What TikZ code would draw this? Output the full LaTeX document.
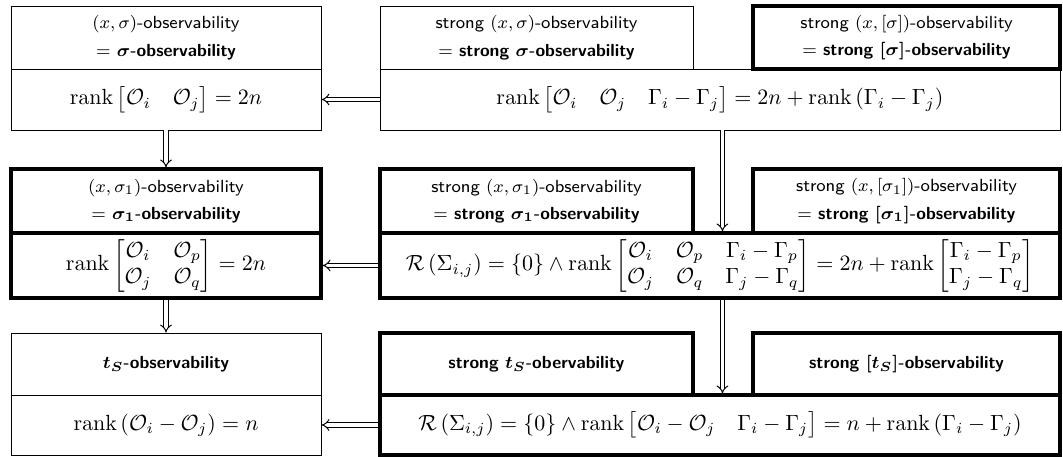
\documentclass[tikz,border=0pt]{standalone}
\usepackage{amsmath}
\usepackage{amssymb}
\usepackage{tikz}
\usetikzlibrary{arrows.meta, calc}

\begin{document}
\begin{tikzpicture}[
  ttl/.style={draw, line width=0.45pt, fill=white, align=center, inner sep=0pt,
              font=\footnotesize\sffamily},
  cnd/.style={draw, line width=0.45pt, fill=white, align=center, inner sep=0pt},
  strongbox/.style={line width=1.4pt},
  leftcol/.style={minimum width=4.96cm},
  midcol/.style={minimum width=5.008cm},
  rightcol/.style={minimum width=4.912cm},
  widecol/.style={minimum width=10.88cm},
  impl/.style={double, double distance=1.4pt, line width=0.45pt, -{Implies}}
]
  \useasboundingbox (0,0) rectangle (17.008,-7.312);

  % first row: sigma
  \node[ttl, leftcol, minimum height=1.008cm] (t1L) at (2.656,-0.6)
    {$(x,\sigma)$-observability\\[3pt]$=$ \textbf{\boldmath$\sigma$-observability}};
  \node[cnd, leftcol, minimum height=0.976cm] (c1L) at (2.656,-1.592)
    {$\operatorname{rank}\begin{bmatrix}\mathcal{O}_i & \mathcal{O}_j\end{bmatrix} = 2n$};
  \node[ttl, midcol, minimum height=1.008cm] (t1M) at (8.584,-0.6)
    {strong $(x,\sigma)$-observability\\[3pt]$=$ \textbf{\boldmath strong $\sigma$-observability}};
  \node[cnd, widecol, minimum height=0.976cm] (c1R) at (11.52,-1.592)
    {$\operatorname{rank}\begin{bmatrix}\mathcal{O}_i & \mathcal{O}_j & \Gamma_i-\Gamma_j\end{bmatrix}
      = 2n + \operatorname{rank}\left(\Gamma_i-\Gamma_j\right)$};
  \node[ttl, strongbox, rightcol, minimum height=1.008cm] (t1R) at (14.504,-0.6)
    {strong $(x,[\sigma])$-observability\\[3pt]$=$ \textbf{\boldmath strong $[\sigma]$-observability}};

  % second row: sigma_1
  \node[ttl, strongbox, leftcol, minimum height=1.024cm] (t2L) at (2.656,-3.216)
    {$(x,\sigma_1)$-observability\\[3pt]$=$ \textbf{\boldmath$\sigma_1$-observability}};
  \node[cnd, strongbox, leftcol, minimum height=1.04cm] (c2L) at (2.656,-4.248)
    {$\operatorname{rank}\begin{bmatrix}\mathcal{O}_i & \mathcal{O}_p\\ \mathcal{O}_j & \mathcal{O}_q\end{bmatrix} = 2n$};
  \node[ttl, strongbox, midcol, minimum height=1.024cm] (t2M) at (8.584,-3.216)
    {strong $(x,\sigma_1)$-observability\\[3pt]$=$ \textbf{\boldmath strong $\sigma_1$-observability}};
  \node[ttl, strongbox, rightcol, minimum height=1.024cm] (t2R) at (14.504,-3.216)
    {strong $(x,[\sigma_1])$-observability\\[3pt]$=$ \textbf{\boldmath strong $[\sigma_1]$-observability}};
  \node[cnd, strongbox, widecol, minimum height=1.04cm] (c2R) at (11.52,-4.248)
    {$\mathcal{R}\left(\Sigma_{i,j}\right) = \{0\} \wedge \operatorname{rank}
      \begin{bmatrix}\mathcal{O}_i & \mathcal{O}_p & \Gamma_i-\Gamma_p\\ \mathcal{O}_j & \mathcal{O}_q & \Gamma_j-\Gamma_q\end{bmatrix}
      = 2n + \operatorname{rank}\begin{bmatrix}\Gamma_i-\Gamma_p\\ \Gamma_j-\Gamma_q\end{bmatrix}$};

  % third row: t_S
  \node[ttl, leftcol, minimum height=0.992cm] (t3L) at (2.656,-5.824)
    {\textbf{\boldmath$t_S$-observability}};
  \node[cnd, leftcol, minimum height=0.96cm] (c3L) at (2.656,-6.8)
    {$\operatorname{rank}\left(\mathcal{O}_i-\mathcal{O}_j\right) = n$};
  \node[ttl, strongbox, midcol, minimum height=0.992cm] (t3M) at (8.584,-5.824)
    {\textbf{\boldmath strong $t_S$-obervability}};
  \node[ttl, strongbox, rightcol, minimum height=0.992cm] (t3R) at (14.504,-5.824)
    {\textbf{\boldmath strong $[t_S]$-observability}};
  \node[cnd, strongbox, widecol, minimum height=0.96cm] (c3R) at (11.52,-6.8)
    {$\mathcal{R}\left(\Sigma_{i,j}\right) = \{0\} \wedge \operatorname{rank}
      \begin{bmatrix}\mathcal{O}_i-\mathcal{O}_j & \Gamma_i-\Gamma_j\end{bmatrix}
      = n + \operatorname{rank}\left(\Gamma_i-\Gamma_j\right)$};

  % implications
  \coordinate (gap) at ($(t1M.east)!0.5!(t1R.west)$);
  \draw[impl] (c1R) -- (c1L);
  \draw[impl] (c2R) -- (c2L);
  \draw[impl] (c3R) -- (c3L);
  \draw[impl] (c1L) -- (t2L);
  \draw[impl] (c2L) -- (t3L);
  \draw[impl] (c1R.south -| gap) -- (c2R.north -| gap);
  \draw[impl] (c2R.south -| gap) -- (c3R.north -| gap);
\end{tikzpicture}
\end{document}
